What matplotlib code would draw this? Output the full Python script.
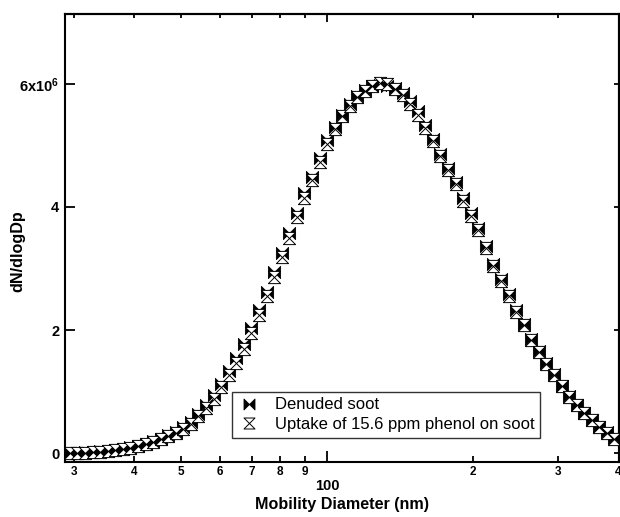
import matplotlib
matplotlib.use("Agg")
import matplotlib.pyplot as plt
from matplotlib.path import Path
from matplotlib.ticker import FixedLocator, FuncFormatter, NullFormatter

plt.rcParams["font.family"] = ["Liberation Sans", "DejaVu Sans"]
plt.rcParams["mathtext.default"] = "regular"

# SMPS channel midpoints (nm)
diameter = [
    29.4, 30.5, 31.6, 32.8, 34.0, 35.2, 36.5, 37.9, 39.2, 40.7, 42.2, 43.7,
    45.3, 47.0, 48.7, 50.5, 52.3, 54.2, 56.2, 58.3, 60.4, 62.6, 64.9, 67.3,
    69.8, 72.3, 75.0, 77.7, 80.6, 83.5, 86.6, 89.8, 93.1, 96.5, 100.0, 103.7,
    107.5, 111.4, 115.5, 119.7, 124.1, 128.6, 133.3, 138.2, 143.3, 148.6, 154.0, 159.6,
    165.5, 171.5, 177.8, 184.3, 191.1, 198.1, 205.4, 212.9, 220.7, 228.8, 237.2, 245.9,
    254.8, 264.2, 273.8, 283.9, 294.3, 305.1, 316.3, 327.8, 339.8, 352.3, 365.2, 378.6,
    392.4,
]

# dN/dlogDp, in units of 1e6
denuded = [
    0.01, 0.01, 0.015, 0.02, 0.03, 0.04, 0.055, 0.076, 0.10, 0.125, 0.157, 0.20,
    0.24, 0.29, 0.35, 0.43, 0.51, 0.645, 0.78, 0.943, 1.133, 1.338, 1.54, 1.772,
    2.027, 2.325, 2.623, 2.948, 3.247, 3.572, 3.907, 4.222, 4.493, 4.792, 5.089, 5.306,
    5.50, 5.67, 5.80, 5.90, 5.96, 5.98, 5.97, 5.93, 5.85, 5.72, 5.56, 5.33,
    5.10, 4.86, 4.64, 4.41, 4.14, 3.91, 3.66, 3.36, 3.08, 2.83, 2.58, 2.33,
    2.10, 1.86, 1.66, 1.47, 1.28, 1.10, 0.93, 0.79, 0.66, 0.545, 0.43, 0.34,
    0.25,
]

phenol = [
    0.01, 0.01, 0.012, 0.018, 0.025, 0.035, 0.05, 0.068, 0.09, 0.115, 0.145, 0.185,
    0.225, 0.275, 0.33, 0.40, 0.48, 0.60, 0.73, 0.89, 1.07, 1.27, 1.47, 1.70,
    1.95, 2.25, 2.55, 2.87, 3.18, 3.50, 3.83, 4.15, 4.43, 4.73, 5.03, 5.27,
    5.47, 5.64, 5.78, 5.89, 5.96, 6.02, 5.99, 5.92, 5.82, 5.67, 5.50, 5.29,
    5.07, 4.82, 4.60, 4.37, 4.10, 3.86, 3.62, 3.33, 3.04, 2.80, 2.55, 2.30,
    2.08, 1.84, 1.64, 1.45, 1.27, 1.09, 0.92, 0.78, 0.65, 0.535, 0.42, 0.33,
    0.24,
]

x_minor = [30, 40, 50, 60, 70, 80, 90, 200, 300, 400]
x_minor_labels = ["3", "4", "5", "6", "7", "8", "9", "2", "3", "4"]
y_ticks = [0, 2e6, 4e6, 6e6]


def tri_marker(kind):
    M, L, C = Path.MOVETO, Path.LINETO, Path.CLOSEPOLY
    if kind == "bowtie":
        verts = [(-1, -1), (0, 0), (-1, 1), (-1, -1),
                 (1, -1), (0, 0), (1, 1), (1, -1)]
    else:
        verts = [(-1, 1), (0, 0), (1, 1), (-1, 1),
                 (-1, -1), (0, 0), (1, -1), (-1, -1)]
    return Path(verts, [M, L, L, C, M, L, L, C])


def ylab(v, pos):
    if v == 0:
        return "0"
    if v == 6e6:
        return "6x10$^{6}$"
    return f"{v / 1e6:.0f}"


fig = plt.figure(figsize=(6.2, 5.17), dpi=100)
ax = fig.add_axes([65 / 620, 1 - 462 / 517, 553.5 / 620, 448 / 517])

d_vals = [v * 1e6 for v in denuded]
p_vals = [v * 1e6 for v in phenol]

ax.plot(diameter, d_vals, linestyle="none", marker=tri_marker("bowtie"),
        markersize=8.8, markerfacecolor="black", markeredgecolor="black",
        markeredgewidth=0.6, label="Denuded soot", zorder=3)
ax.plot(diameter, p_vals, linestyle="none", marker=tri_marker("hourglass"),
        markersize=8.8, markerfacecolor="white", markeredgecolor="black",
        markeredgewidth=0.7, label="Uptake of 15.6 ppm phenol on soot", zorder=4)

ax.set_xscale("log")
ax.set_xlim(28.75, 400)
ax.set_ylim(-0.141e6, 7.133e6)

ax.xaxis.set_major_locator(FixedLocator([100]))
ax.xaxis.set_major_formatter(FuncFormatter(lambda v, p: "100"))
ax.xaxis.set_minor_locator(FixedLocator(x_minor))
ax.xaxis.set_minor_formatter(FuncFormatter(lambda v, p: x_minor_labels[p]))
ax.yaxis.set_major_locator(FixedLocator(y_ticks))
ax.yaxis.set_major_formatter(FuncFormatter(ylab))
ax.yaxis.set_minor_locator(FixedLocator([]))

ax.tick_params(axis="x", which="major", direction="in", length=8, width=1.3,
               pad=12, labelsize=10.5)
ax.tick_params(axis="x", which="minor", direction="in", length=4, width=1.3,
               pad=3, labelsize=8.5)
ax.tick_params(axis="y", which="major", direction="in", length=7, width=1.3,
               pad=4, labelsize=10.5)
for lab in ax.get_xticklabels(which="both") + ax.get_yticklabels():
    lab.set_fontweight("bold")

top = ax.secondary_xaxis("top")
top.xaxis.set_major_locator(FixedLocator([100]))
top.xaxis.set_minor_locator(FixedLocator(x_minor))
top.xaxis.set_major_formatter(NullFormatter())
top.xaxis.set_minor_formatter(NullFormatter())
top.tick_params(which="major", direction="in", length=6, width=1.3)
top.tick_params(which="minor", direction="in", length=3, width=1.3)

right = ax.secondary_yaxis("right")
right.yaxis.set_major_locator(FixedLocator(y_ticks))
right.yaxis.set_major_formatter(NullFormatter())
right.tick_params(direction="in", length=3.5, width=1.3)

for s in ["left", "bottom", "top", "right"]:
    ax.spines[s].set_linewidth(1.5)
top.spines["top"].set_linewidth(1.5)
right.spines["right"].set_linewidth(1.5)

ax.set_xlabel("Mobility Diameter (nm)", fontsize=11.6, fontweight="bold")
ax.xaxis.set_label_coords(0.5, -0.079)
ax.set_ylabel("dN/dlogDp", fontsize=11.6, fontweight="bold")
ax.yaxis.set_label_coords(-0.072, 0.47)

leg = ax.legend(loc="lower left", bbox_to_anchor=(0.3025, 0.0536), fontsize=12,
                frameon=True, fancybox=False, borderpad=0.35, labelspacing=0.28,
                handlelength=1.3, handletextpad=0.9, borderaxespad=0,
                markerscale=0.9)
leg.get_frame().set_edgecolor("black")
leg.get_frame().set_linewidth(1.0)

fig.savefig("out.png", dpi=100)
